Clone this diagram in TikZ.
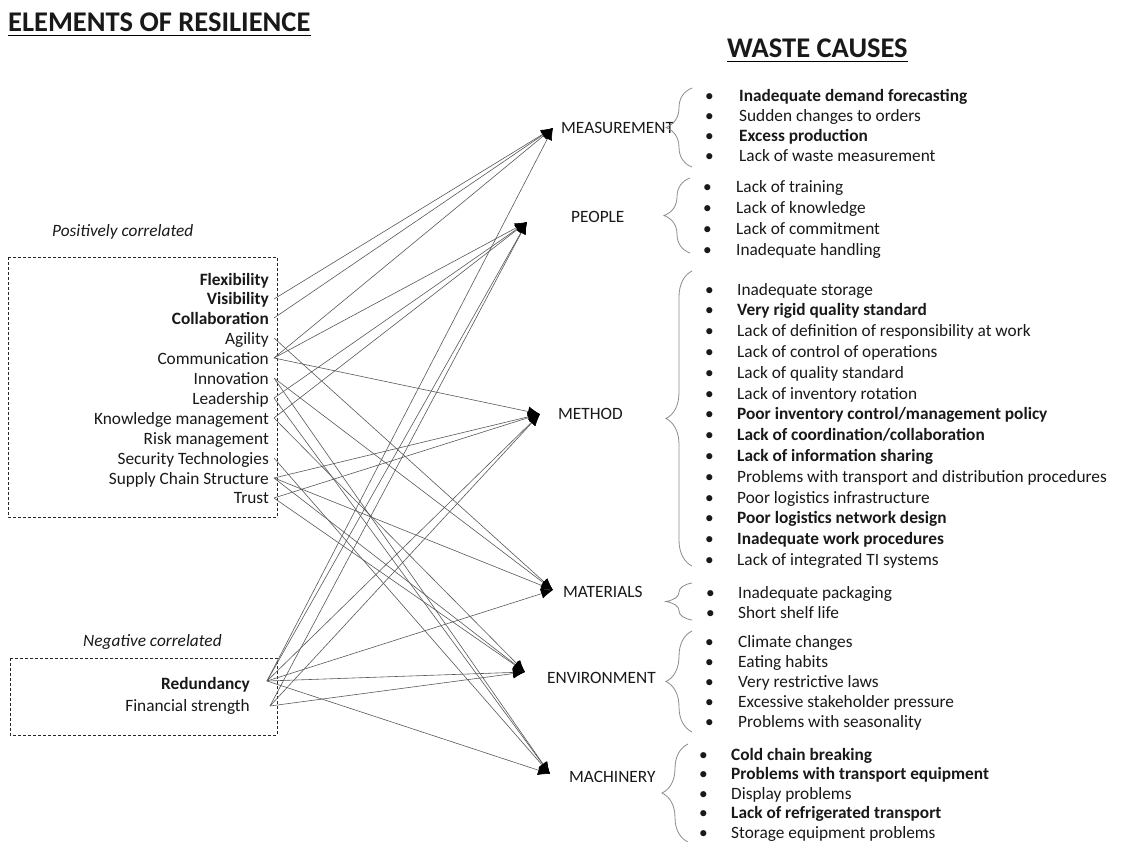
\documentclass[tikz,border=0pt]{standalone}
\usepackage{fontspec}
\setmainfont{Carlito}
\usetikzlibrary{arrows.meta,decorations.pathreplacing}
\begin{document}
\begin{tikzpicture}[x=1pt,y=-1pt,
  every node/.style={font=\fontsize{17.3}{20}\selectfont, inner sep=0pt, text=black!90},
  lbl/.style={anchor=base east},
  cat/.style={anchor=base west},
  itm/.style={anchor=base west},
  conn/.style={draw=black!65, line width=0.6pt, -{Latex[length=12pt,width=10pt,color=black]}},
  brc/.style={draw=black!45, line width=0.8pt, decorate, decoration={brace, amplitude=26pt}},
  grp/.style={draw=black!85, densely dashed, line width=0.7pt},
  head/.style={font=\fontsize{28.5}{32}\selectfont\bfseries, anchor=base west},
  note/.style={font=\fontsize{17.3}{20}\selectfont\itshape, anchor=base west}
]
\useasboundingbox (0,0) rectangle (1122,841);
\fill[white] (0,0) rectangle (1122,841);

% headings
\node[head] (h1) at (8,31) {ELEMENTS OF RESILIENCE};
\node[head] (h2) at (727,57) {WASTE CAUSES};
\draw[line width=1.5pt] ([yshift=-4pt]h1.south west) -- ([yshift=-4pt]h1.south east);
\draw[line width=1.5pt] ([yshift=-4pt]h2.south west) -- ([yshift=-4pt]h2.south east);

% group boxes
\node[note] (pos) at (52,236) {Positively correlated};
\node[note] (neg) at (83,646) {Negative correlated};
\draw[grp] (8,257) rectangle (277,517);
\draw[grp] (10,658) rectangle (277,735);

% left labels
\foreach \n/\t [count=\i] in {fle/\textbf{Flexibility}, vis/\textbf{Visibility}, col/\textbf{Collaboration},
  agi/Agility, com/Communication, inn/Innovation, lea/Leadership, kno/Knowledge management,
  ris/Risk management, sec/Security Technologies\ , scs/Supply Chain Structure\ , tru/Trust}
  \node[lbl] (\n) at (269,{285+19.9*(\i-1)}) {\t};
\foreach \n/\y in {fle/279, vis/299, col/318, agi/338, com/358, inn/378, lea/398,
  kno/418, ris/438, sec/458, scs/478, tru/498}
  \coordinate (\n P) at (274,\y);

\node[lbl] (red) at (250,689) {\textbf{Redundancy}};
\node[lbl] (fin) at (250,711) {Financial strength};
\coordinate (redP) at (267,681);
\coordinate (finP) at (270,706);

% target tips
\coordinate (meas) at (553,128);
\coordinate (peop) at (527,222);
\coordinate (meth) at (540,414);
\coordinate (mate) at (553,590);
\coordinate (envi) at (525,672);
\coordinate (mach) at (550,774);

% categories
\node[cat] (tmeas) at (561,133) {MEASUREMENT};
\node[cat] (tpeop) at (571,222) {PEOPLE};
\node[cat] (tmeth) at (558,419) {METHOD};
\node[cat] (tmate) at (563,597) {MATERIALS};
\node[cat] (tenvi) at (547,683) {ENVIRONMENT};
\node[cat] (tmach) at (569,782) {MACHINERY};

% connectors
\foreach \s/\t in {vis/meas, col/meas, com/meas, com/peop, com/meth, agi/mate,
  inn/mate, inn/mach, lea/peop, lea/mach, kno/peop, kno/envi, sec/mach,
  scs/meth, scs/mate, scs/envi, tru/meth, tru/envi}
  \draw[conn] (\s P) -- (\t);
\foreach \t in {meas, peop, meth, mate, envi, mach}
  \draw[conn] (redP) -- (\t);
\foreach \t in {peop, meth, envi}
  \draw[conn] (finP) -- (\t);

% braces
\draw[brc] (692,167) -- (692,88);
\draw[brc] (690,253) -- (690,178);
\draw[brc] (692,566) -- (692,271);
\draw[brc] (692,620) -- (692,583);
\draw[brc] (692,732) -- (692,631);
\draw[brc] (688,842) -- (688,744);

% lists
\foreach \t [count=\i] in {\textbf{Inadequate demand forecasting}, Sudden changes to orders,
  \textbf{Excess production}, Lack of waste measurement} {
  \node[itm] (mb\i) at (705,{101+20.3*(\i-1)}) {•};
  \node[itm] (mt\i) at (739,{101+20.3*(\i-1)}) {\t};
}
\foreach \t [count=\i] in {Lack of training, Lack of knowledge, Lack of commitment, Inadequate handling} {
  \node[itm] (pb\i) at (703,{192+21*(\i-1)}) {•};
  \node[itm] (pt\i) at (736,{192+21*(\i-1)}) {\t};
}
\foreach \t [count=\i] in {Inadequate storage, \textbf{Very rigid quality standard},
  Lack of definition of responsibility at work, Lack of control of operations,
  Lack of quality standard, Lack of inventory rotation,
  \textbf{Poor inventory control/management policy}, \textbf{Lack of coordination/collaboration},
  \textbf{Lack of information sharing}, Problems with transport and distribution procedures,
  Poor logistics infrastructure, \textbf{Poor logistics network design},
  \textbf{Inadequate work procedures}, Lack of integrated TI systems} {
  \node[itm] (hb\i) at (705,{295+20.8*(\i-1)}) {•};
  \node[itm] (ht\i) at (737,{295+20.8*(\i-1)}) {\t};
}
\foreach \t [count=\i] in {Inadequate packaging, Short shelf life} {
  \node[itm] (ab\i) at (706,{598+20.5*(\i-1)}) {•};
  \node[itm] (at\i) at (738,{598+20.5*(\i-1)}) {\t};
}
\foreach \t [count=\i] in {Climate changes, Eating habits, Very restrictive laws,
  Excessive stakeholder pressure, Problems with seasonality} {
  \node[itm] (eb\i) at (705,{647+20.2*(\i-1)}) {•};
  \node[itm] (et\i) at (738,{647+20.2*(\i-1)}) {\t};
}
\foreach \t [count=\i] in {\textbf{Cold chain breaking}, \textbf{Problems with transport equipment},
  Display problems, \textbf{Lack of refrigerated transport}, Storage equipment problems} {
  \node[itm] (cb\i) at (699,{760+19.5*(\i-1)}) {•};
  \node[itm] (ct\i) at (731,{760+19.5*(\i-1)}) {\t};
}
\end{tikzpicture}
\end{document}
